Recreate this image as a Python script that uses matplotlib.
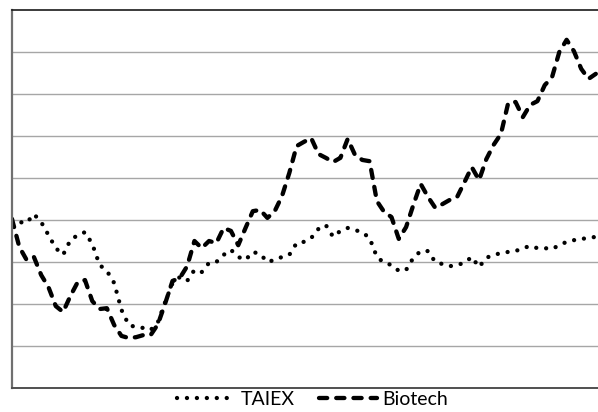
import numpy as np
import matplotlib
matplotlib.use("Agg")
import matplotlib.pyplot as plt

# weekly index values, normalised to 1.0 at the start
taiex = [1.002, 0.995, 0.993, 1.014, 0.995, 0.964, 0.933, 0.917, 0.952, 0.964,
         0.971, 0.943, 0.893, 0.879, 0.850, 0.786, 0.750, 0.745, 0.743, 0.738,
         0.757, 0.805, 0.850, 0.864, 0.855, 0.881, 0.876, 0.898, 0.900, 0.917,
         0.929, 0.912, 0.905, 0.924, 0.919, 0.900, 0.905, 0.912, 0.917, 0.945,
         0.948, 0.957, 0.979, 0.988, 0.960, 0.974, 0.981, 0.976, 0.971, 0.957,
         0.912, 0.898, 0.893, 0.879, 0.881, 0.910, 0.926, 0.926, 0.900, 0.895,
         0.890, 0.893, 0.898, 0.912, 0.888, 0.910, 0.917, 0.921, 0.924, 0.926,
         0.933, 0.938, 0.933, 0.933, 0.931, 0.940, 0.948, 0.952, 0.955, 0.957,
         0.960]
biotech = [1.002, 0.936, 0.905, 0.912, 0.869, 0.840, 0.795, 0.781, 0.819, 0.852,
           0.857, 0.807, 0.788, 0.790, 0.750, 0.724, 0.719, 0.721, 0.726, 0.726,
           0.752, 0.802, 0.855, 0.862, 0.890, 0.950, 0.933, 0.950, 0.945, 0.981,
           0.974, 0.940, 0.981, 1.021, 1.024, 1.005, 1.021, 1.057, 1.112, 1.176,
           1.186, 1.195, 1.157, 1.148, 1.138, 1.148, 1.193, 1.155, 1.143, 1.140,
           1.045, 1.019, 1.007, 0.955, 0.983, 1.036, 1.086, 1.055, 1.029, 1.038,
           1.048, 1.055, 1.090, 1.126, 1.095, 1.145, 1.179, 1.205, 1.279, 1.281,
           1.245, 1.274, 1.283, 1.321, 1.340, 1.400, 1.429, 1.402, 1.360, 1.336,
           1.348]
weeks = np.arange(len(taiex))

fig = plt.figure(figsize=(5.98, 4.12), dpi=100, facecolor='white')
ax = fig.add_axes([12/598, 24/412, 586/598, 378/412])

ax.plot(weeks, taiex, color='black', lw=3.1, linestyle=(0, (0.01, 2.3)),
        dash_capstyle='round', solid_capstyle='round', label='TAIEX')
ax.plot(weeks, biotech, color='black', lw=3.1, linestyle=(0, (1.9, 2.1)),
        dash_capstyle='round', label='Biotech')

ax.set_xlim(0, 80.3)
ax.set_ylim(0.6, 1.5)
ax.set_yticks(np.arange(0.7, 1.5, 0.1))
ax.grid(axis='y', color='#a6a6a6', lw=1.0)
ax.set_axisbelow(True)
ax.tick_params(left=False, bottom=False, labelleft=False, labelbottom=False)

ax.spines['right'].set_visible(False)
ax.spines['top'].set_color('#1a1a1a')
ax.spines['top'].set_linewidth(1.2)
ax.spines['left'].set_color('#707070')
ax.spines['left'].set_linewidth(1.6)
ax.spines['bottom'].set_color('#505050')
ax.spines['bottom'].set_linewidth(1.4)

fig.legend(loc='center', bbox_to_anchor=(0.523, 0.03), ncol=2, frameon=False,
           prop={'family': 'Lato', 'size': 14}, handlelength=3.0,
           handletextpad=0.3, columnspacing=1.2)

fig.savefig('out.png', dpi=100, facecolor='white')
